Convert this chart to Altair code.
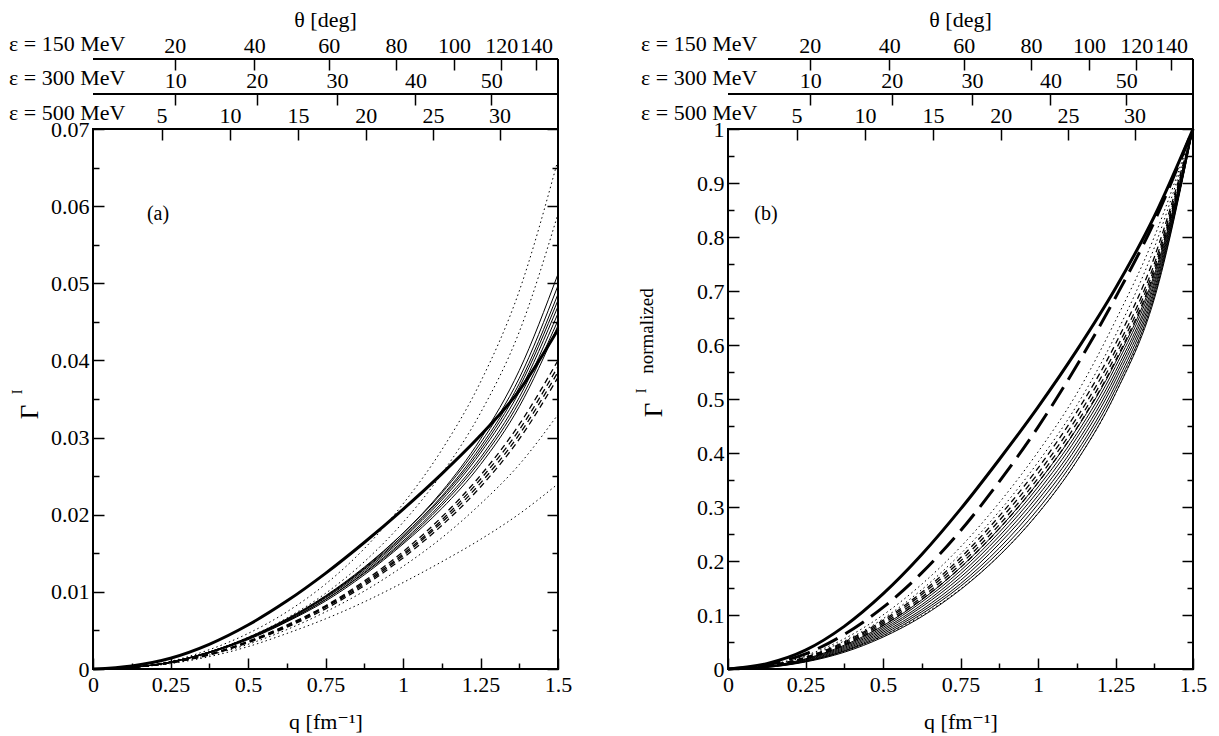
import math
import altair as alt
import pandas as pd

FONT = "Liberation Serif, Times New Roman, Nimbus Roman, DejaVu Serif, serif"

# ---------------- data ----------------
Q = [0.0, 0.125, 0.25, 0.375, 0.5, 0.625, 0.75, 0.875, 1.0, 1.125, 1.25, 1.375, 1.5]

# panel (a): Gamma^I
A_THICK = [[0, .0004, .0014, .0032, .0057, .0088, .0124, .0164, .0207, .0253, .0303, .0361, .0440]]
A_THIN = [
    [0, .0002, .0009, .0022, .0040, .0064, .0094, .0131, .0176, .0230, .0298, .0387, .0512],
    [0, .0002, .0009, .0022, .0041, .0065, .0095, .0132, .0176, .0228, .0293, .0377, .0497],
    [0, .0002, .0009, .0022, .0040, .0064, .0094, .0130, .0173, .0224, .0288, .0370, .0486],
    [0, .0002, .0009, .0022, .0040, .0064, .0093, .0129, .0171, .0222, .0284, .0365, .0478],
    [0, .0002, .0009, .0022, .0040, .0063, .0092, .0127, .0169, .0219, .0280, .0359, .0470],
    [0, .0002, .0009, .0021, .0039, .0062, .0090, .0125, .0166, .0215, .0274, .0352, .0461],
    [0, .0002, .0009, .0021, .0039, .0062, .0090, .0124, .0164, .0212, .0270, .0346, .0452],
    [0, .0002, .0009, .0021, .0038, .0061, .0088, .0122, .0162, .0208, .0265, .0340, .0445],
]
A_DASHED = [
    [0, .0002, .0008, .0019, .0036, .0057, .0082, .0114, .0152, .0197, .0251, .0317, .0400],
    [0, .0002, .0008, .0019, .0035, .0056, .0081, .0112, .0149, .0193, .0246, .0310, .0392],
    [0, .0002, .0008, .0019, .0035, .0055, .0080, .0110, .0147, .0190, .0241, .0304, .0385],
    [0, .0002, .0008, .0018, .0034, .0054, .0078, .0108, .0144, .0186, .0236, .0298, .0378],
]
A_DOTTED = [
    [0, .0002, .0010, .0025, .0046, .0074, .0110, .0156, .0214, .0284, .0372, .0490, .0660],
    [0, .0002, .0009, .0022, .0041, .0066, .0098, .0139, .0190, .0253, .0332, .0437, .0590],
    [0, .0002, .0008, .0018, .0032, .0051, .0074, .0101, .0133, .0170, .0214, .0265, .0330],
    [0, .0002, .0007, .0016, .0029, .0046, .0065, .0087, .0112, .0139, .0168, .0201, .0240],
]

# panel (b): normalized
B_THICK = [[0, .010, .035, .079, .139, .212, .296, .388, .485, .590, .705, .838, 1.0]]
B_LONGDASH = [[0, .008, .028, .064, .114, .178, .256, .347, .448, .562, .688, .828, 1.0]]
B_DOTTED = [
    [0, .007, .025, .056, .100, .157, .226, .308, .402, .510, .645, .800, 1.0],
    [0, .006, .023, .052, .093, .147, .213, .292, .383, .488, .618, .780, 1.0],
    [0, .004, .014, .033, .061, .099, .148, .210, .288, .385, .510, .690, 1.0],
]
B_DASHED = [
    [0, .006, .022, .050, .090, .142, .206, .283, .372, .476, .602, .762, 1.0],
    [0, .006, .021, .048, .087, .138, .200, .275, .362, .465, .590, .750, 1.0],
    [0, .005, .020, .046, .084, .133, .194, .267, .353, .455, .580, .742, 1.0],
    [0, .005, .019, .044, .081, .129, .188, .260, .345, .446, .571, .735, 1.0],
]
B_THIN = [
    [0, .005, .019, .044, .080, .128, .188, .260, .345, .445, .568, .730, 1.0],
    [0, .005, .018, .042, .077, .124, .182, .253, .337, .436, .560, .724, 1.0],
    [0, .004, .017, .040, .074, .119, .176, .246, .329, .428, .551, .717, 1.0],
    [0, .004, .016, .038, .071, .115, .170, .239, .321, .419, .543, .711, 1.0],
    [0, .004, .015, .036, .068, .110, .164, .232, .313, .411, .535, .704, 1.0],
    [0, .004, .014, .034, .065, .106, .158, .224, .305, .402, .526, .698, 1.0],
    [0, .003, .014, .033, .062, .102, .153, .217, .296, .394, .518, .691, 1.0],
    [0, .003, .013, .031, .059, .097, .147, .210, .288, .385, .510, .685, 1.0],
]

# axes
X_MAJOR = [0, 0.25, 0.5, 0.75, 1.0, 1.25, 1.5]
X_MINOR = [0.125, 0.375, 0.625, 0.875, 1.125, 1.375]
A_Y_MAJOR = [0, 0.01, 0.02, 0.03, 0.04, 0.05, 0.06, 0.07]
A_Y_MINOR = [0.005, 0.015, 0.025, 0.035, 0.045, 0.055, 0.065]
B_Y_MAJOR = [0, 0.1, 0.2, 0.3, 0.4, 0.5, 0.6, 0.7, 0.8, 0.9, 1.0]
B_Y_MINOR = [0.05, 0.15, 0.25, 0.35, 0.45, 0.55, 0.65, 0.75, 0.85, 0.95]

THETA_TICKS = {150: [20, 40, 60, 80, 100, 120, 140],
               300: [10, 20, 30, 40, 50],
               500: [5, 10, 15, 20, 25, 30]}
HBARC = 197.327  # MeV fm

STYLE = {
    "dotted": {"strokeWidth": 1.0, "strokeDash": [1.5, 3]},
    "dashed": {"strokeWidth": 1.3, "strokeDash": [6, 4]},
    "thin": {"strokeWidth": 1.0},
    "longdash": {"strokeWidth": 3.0, "strokeDash": [22, 9]},
    "thick": {"strokeWidth": 3.0},
}

W, H = 465, 540
DUMMY = pd.DataFrame({"q": [0.0], "v": [0.0]})
XS = alt.Scale(domain=[0, 1.5], nice=False, zero=False)


def long_df(groups):
    rows = []
    for style, curves in groups:
        for i, c in enumerate(curves):
            for q, v in zip(Q, c):
                rows.append({"q": q, "v": v, "style": style, "curve": f"{style}{i}"})
    return pd.DataFrame(rows)


def theta_q(E, th):
    return 2 * E * math.sin(math.radians(th / 2)) / HBARC


def theta_axis(E, offset):
    return alt.Axis(orient="top", values=[theta_q(E, t) for t in THETA_TICKS[E]],
                    labelExpr=f"format(2*asin(datum.value*{HBARC}/{2*E})*180/PI, 'd')",
                    offset=offset, tickSize=11, labelPadding=7,
                    labelBaseline="alphabetic", title=None)


def label(txt, x, y, size=22, angle=0, align="center", baseline="middle"):
    kw = dict(text=txt, font=FONT, fontSize=size, align=align, baseline=baseline, color="black")
    if angle:
        kw["angle"] = angle
    return alt.Chart(DUMMY).mark_text(**kw).encode(x=alt.value(x), y=alt.value(y))


def panel(df, ydom, ymaj, ymin, yfmt, extra_texts, eps_x):
    ys = alt.Scale(domain=ydom, nice=False, zero=False)
    layers = []
    first = True
    for style in ["dotted", "dashed", "thin", "longdash", "thick"]:
        sub = df[df["style"] == style]
        if sub.empty:
            continue
        if first:
            xax = alt.Axis(orient="bottom", values=X_MAJOR, format=".2~f", offset=-11,
                           tickSize=11, labelPadding=5, title="q [fm⁻¹]",
                           titleY=70, titleBaseline="alphabetic")
            yax = alt.Axis(orient="left", values=ymaj, format=yfmt, offset=-11,
                           tickSize=11, labelPadding=4, title=None)
            first = False
        else:
            xax, yax = None, None
        layers.append(
            alt.Chart(sub).mark_line(interpolate="monotone", color="black", **STYLE[style]).encode(
                x=alt.X("q:Q", scale=XS, axis=xax),
                y=alt.Y("v:Q", scale=ys, axis=yax),
                detail="curve:N",
            )
        )

    def ghost(xax, yax):
        return alt.Chart(DUMMY).mark_point(opacity=0, size=1).encode(
            x=alt.X("q:Q", scale=XS, axis=xax), y=alt.Y("v:Q", scale=ys, axis=yax))

    layers.append(ghost(
        alt.Axis(orient="bottom", values=X_MINOR, offset=-6, tickSize=6, labels=False, title=None),
        alt.Axis(orient="left", values=ymin, offset=-6, tickSize=6, labels=False, title=None)))
    layers.append(ghost(
        theta_axis(500, -11),
        alt.Axis(orient="right", values=ymaj, offset=-11, tickSize=11, labels=False, title=None)))
    layers.append(ghost(
        theta_axis(300, 24),
        alt.Axis(orient="right", values=ymin, offset=-6, tickSize=6, labels=False, title=None)))
    layers.append(ghost(theta_axis(150, 59), None))

    # frame lines of the angle strips
    for yy in (-70, -35):
        layers.append(alt.Chart(DUMMY).mark_rule(color="black", strokeWidth=2).encode(
            x=alt.value(0), x2=alt.value(W), y=alt.value(yy)))
    layers.append(alt.Chart(DUMMY).mark_rule(color="black", strokeWidth=2).encode(
        x=alt.value(W), y=alt.value(-70), y2=alt.value(0)))

    layers.append(label("θ [deg]", W / 2, -102, baseline="alphabetic"))
    layers.append(label("ε = 150 MeV", eps_x, -78, align="left", baseline="alphabetic"))
    layers.append(label("ε = 300 MeV", eps_x, -44, align="left", baseline="alphabetic"))
    layers.append(label("ε = 500 MeV", eps_x, -9, align="left", baseline="alphabetic"))
    layers.extend(extra_texts)

    return alt.layer(*layers).resolve_axis(x="independent", y="independent").properties(
        width=W, height=H)


df_a = long_df([("dotted", A_DOTTED), ("dashed", A_DASHED), ("thin", A_THIN), ("thick", A_THICK)])
df_b = long_df([("dotted", B_DOTTED), ("dashed", B_DASHED), ("thin", B_THIN),
                ("longdash", B_LONGDASH), ("thick", B_THICK)])

texts_a = [
    label("(a)", 65, 85, size=20),
    label("Γ", -63, 283, size=25, angle=270),
    label("I", -75, 263, size=14, angle=270),
]
texts_b = [
    label("(b)", 38, 85, size=20),
    label("Γ", -74, 281, size=25, angle=270),
    label("I", -86, 262, size=14, angle=270),
    label("normalized", -81, 202, size=19, angle=270),
]

left = panel(df_a, [0, 0.07], A_Y_MAJOR, A_Y_MINOR, ".2~f", texts_a, -84)
right = panel(df_b, [0, 1.0], B_Y_MAJOR, B_Y_MINOR, ".1~f", texts_b, -87)

chart = alt.hconcat(left, right, spacing=170, bounds="flush").properties(
    padding={"left": 0, "top": 0, "right": 0, "bottom": 0}
).configure_view(stroke="black", strokeWidth=2).configure_axis(
    labelFont=FONT, labelFontSize=22, labelColor="black",
    titleFont=FONT, titleFontSize=22, titleColor="black", titleFontWeight="normal",
    tickColor="black", tickWidth=1.5, domain=False, grid=False,
    labelFlush=False, labelOverlap=False,
)

chart.save("out.html", embed_options={"renderer": "svg", "actions": False})
